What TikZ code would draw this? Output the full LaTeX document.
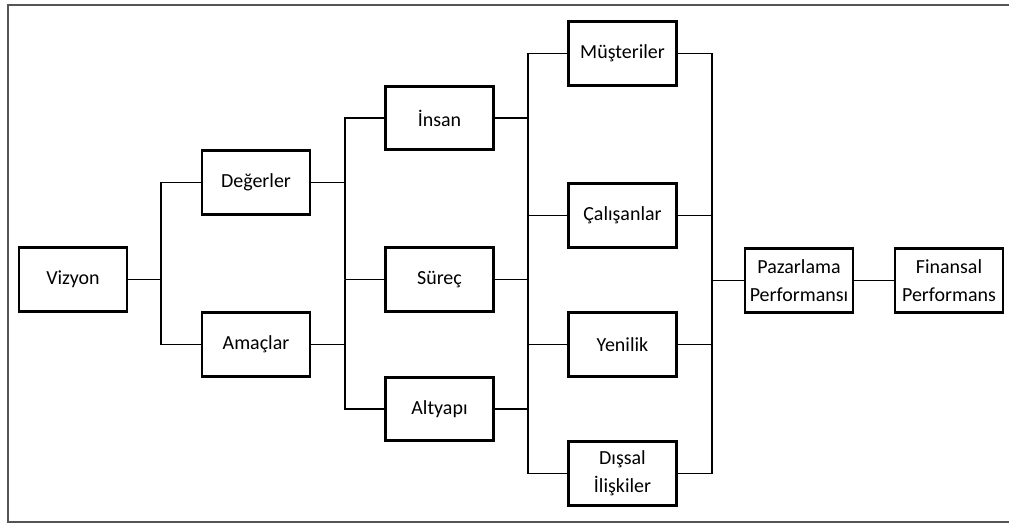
\documentclass[tikz,border=0pt]{standalone}
\usepackage{fontspec}
\setmainfont{Carlito}
\usepackage{tikz}
\usetikzlibrary{calc}
\definecolor{frameG}{RGB}{85,85,85}
\tikzset{blok/.style={draw, line width=2pt, minimum width=2.7cm, minimum height=1.58cm,
  inner sep=0pt, align=center, font=\fontsize{14.2}{20}\selectfont},
  bag/.style={line width=1pt}}

\begin{document}
\begin{tikzpicture}[x=0.025cm, y=-0.025cm]
\useasboundingbox (0,0) rectangle (1009,524);
% outer frame, cut at the right edge
\draw[frameG, line width=1.1pt] (1009,5) -- (8,5) -- (8,522) -- (1009,522);
% first level
\node[blok] (viz) at (73,279.5) {Vizyon};
\node[blok] (deg) at (256,182.5) {Değerler};
\node[blok] (ama) at (256,344.5) {Amaçlar};
% second level
\node[blok] (ins) at (439.5,118) {İnsan};
\node[blok] (sur) at (439.5,279.5) {Süreç};
\node[blok] (alt) at (439.5,409) {Altyapı};
% third level
\node[blok] (mus) at (622.5,53.5) {Müşteriler};
\node[blok] (cal) at (622.5,215.5) {Çalışanlar};
\node[blok] (yen) at (622.5,344.5) {Yenilik};
\node[blok] (dis) at (622.5,473.5) {Dışsal\\İlişkiler};
% results
\node[blok] (paz) at (799,280.5) {Pazarlama\\Performansı};
\node[blok] (fin) at (949,280.5) {Finansal\\Performans};
% junction points
\coordinate (j1) at (161,279.5);
\coordinate (j2) at (345,279.5);
\coordinate (j3) at (528,279.5);
\coordinate (j4) at (712,280.5);
% connectors
\draw[bag] (viz.east) -- (j1);
\draw[bag] (j1) |- (deg.west);
\draw[bag] (j1) |- (ama.west);
\draw[bag] (deg.east) -| (j2) |- (ins.west);
\draw[bag] (ama.east) -| (j2) |- (alt.west);
\draw[bag] (j2) -- (sur.west);
\draw[bag] (ins.east) -| (j3) |- (mus.west);
\draw[bag] (alt.east) -| (j3) |- (dis.west);
\draw[bag] (sur.east) -- (j3);
\draw[bag] (j3) |- (cal.west);
\draw[bag] (j3) |- (yen.west);
\draw[bag] (mus.east) -| (j4);
\draw[bag] (cal.east) -| (j4);
\draw[bag] (yen.east) -| (j4);
\draw[bag] (dis.east) -| (j4);
\draw[bag] (j4) -- (paz.west);
\draw[bag] (paz) -- (fin);
\end{tikzpicture}
\end{document}
